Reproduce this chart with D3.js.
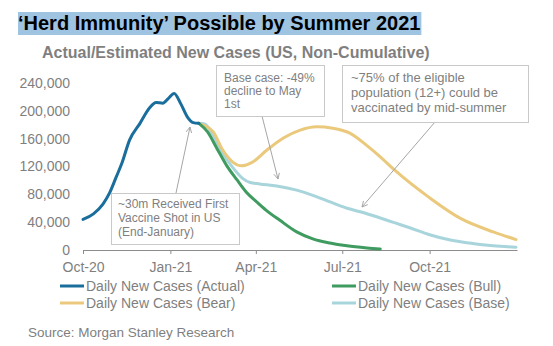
<!DOCTYPE html>
<html>
<head>
<meta charset="utf-8">
<script src="https://cdn.jsdelivr.net/npm/d3@7"></script>
<style>
  html, body { margin: 0; padding: 0; background: #fff; }
  svg { display: block; font-family: "Liberation Sans", Arial, sans-serif; }
</style>
</head>
<body>
<svg id="chart" width="553" height="346"></svg>
<script>
// Daily new US cases: reported history, then three scenario paths
const actualDates = ["2020-10-01","2020-10-12","2020-10-22","2020-10-29","2020-11-05","2020-11-11","2020-11-19","2020-11-30","2020-12-10","2020-12-17","2020-12-24","2020-12-30","2021-01-05","2021-01-12","2021-01-19","2021-01-25","2021-01-31"];
const actualValues = [44000,52000,66000,82000,105000,125000,158000,182000,204000,212000,211000,218000,225000,210000,191000,183000,182000];

const bullDates = ["2021-01-31","2021-02-09","2021-02-19","2021-03-01","2021-03-12","2021-03-22","2021-04-02","2021-04-12","2021-04-26","2021-05-14","2021-05-31","2021-06-18","2021-07-06","2021-07-27","2021-08-10"];
const bullValues = [182000,170000,146000,122000,101000,83000,69000,57000,43000,26000,16000,10000,6000,3000,1500];

const baseDates = ["2021-01-31","2021-02-06","2021-02-15","2021-02-25","2021-03-08","2021-03-18","2021-03-26","2021-04-05","2021-04-23","2021-05-14","2021-06-07","2021-07-06","2021-07-20","2021-08-10","2021-08-23","2021-09-10","2021-10-01","2021-10-24","2021-11-12","2021-12-07","2021-12-31"];
const baseValues = [182000,181000,165000,139000,118000,103000,97000,95000,92000,86000,75000,60000,55000,46000,40000,32000,22000,14000,10000,6000,4000];

const bearDates = ["2021-01-31","2021-02-15","2021-02-25","2021-03-08","2021-03-17","2021-03-28","2021-04-13","2021-04-30","2021-05-17","2021-06-04","2021-06-21","2021-07-09","2021-07-27","2021-08-10","2021-08-25","2021-09-30","2021-11-03","2021-12-07","2021-12-31"];
const bearValues = [182000,170000,144000,126000,121000,126000,144000,161000,172000,177000,175000,168000,150000,134000,115000,76000,45000,26000,15000];

const xTickDates = ["2020-10-01","2021-01-01","2021-04-01","2021-07-01","2021-10-01"];
const xTickLabels = ["Oct-20","Jan-21","Apr-21","Jul-21","Oct-21"];
const yTicks = [0,40000,80000,120000,160000,200000,240000];

const seriesNames = ["Daily New Cases (Actual)","Daily New Cases (Bull)","Daily New Cases (Bear)","Daily New Cases (Base)"];
const seriesColors = ["#1a6e9c","#3f9b5f","#ebc97c","#a8d4dc"];

const parse = d3.timeParse("%Y-%m-%d");
const zip = (ds, vs) => ds.map((d, i) => ({ date: parse(d), value: vs[i] }));

const series = [
  { name: seriesNames[0], color: seriesColors[0], width: 3, data: zip(actualDates, actualValues) },
  { name: seriesNames[3], color: seriesColors[3], width: 3, data: zip(baseDates, baseValues) },
  { name: seriesNames[2], color: seriesColors[2], width: 3, data: zip(bearDates, bearValues) },
  { name: seriesNames[1], color: seriesColors[1], width: 3, data: zip(bullDates, bullValues) }
];

const svg = d3.select("#chart");
const gray = "#7f7f7f";

// Title with highlight band sized to the text
const band = svg.append("rect").attr("x", 18).attr("y", 12).attr("height", 23).attr("fill", "#9fc4e2");
const title = svg.append("text").attr("x", 18).attr("y", 30)
  .attr("font-size", 20).attr("font-weight", "bold").attr("fill", "#000")
  .text("‘Herd Immunity’ Possible by Summer 2021");
band.attr("width", title.node().getComputedTextLength() + 1);

svg.append("text").attr("x", 42).attr("y", 58)
  .attr("font-size", 16).attr("font-weight", "bold").attr("fill", gray)
  .text("Actual/Estimated New Cases (US, Non-Cumulative)");

const x = d3.scaleTime().domain([parse("2020-10-01"), parse("2022-01-01")]).range([83, 517]);
const y = d3.scaleLinear().domain([0, 240000]).range([250, 83]);

// Y labels (no axis line)
const yAxis = d3.axisLeft(y).tickValues(yTicks).tickFormat(d3.format(",")).tickSize(0).tickPadding(0);
const gy = svg.append("g").attr("transform", "translate(70,0)").call(yAxis);
gy.select(".domain").remove();
gy.selectAll("text").attr("font-size", 14).attr("fill", gray).attr("font-family", "Liberation Sans, Arial, sans-serif");

// X axis
const xAxis = d3.axisBottom(x)
  .tickValues(xTickDates.map(parse))
  .tickFormat((d, i) => xTickLabels[i])
  .tickSize(4).tickSizeOuter(0).tickPadding(8);
const gx = svg.append("g").attr("transform", "translate(0,250)").call(xAxis);
gx.select(".domain").attr("stroke", "#8c8c8c");
gx.selectAll(".tick line").attr("stroke", "#8c8c8c");
gx.selectAll("text").attr("font-size", 14).attr("fill", gray).attr("font-family", "Liberation Sans, Arial, sans-serif");

// Lines
const line = d3.line().x(d => x(d.date)).y(d => y(d.value)).curve(d3.curveMonotoneX);
series.slice(1).concat([series[0]]).forEach(s => {
  svg.append("path").datum(s.data)
    .attr("fill", "none").attr("stroke", s.color).attr("stroke-width", s.width)
    .attr("stroke-linejoin", "round").attr("stroke-linecap", "round")
    .attr("d", line);
});

// Annotation arrows
const defs = svg.append("defs");
defs.append("marker").attr("id", "arr").attr("viewBox", "0 0 10 10")
  .attr("refX", 9).attr("refY", 5).attr("markerWidth", 7).attr("markerHeight", 7)
  .attr("orient", "auto")
  .append("path").attr("d", "M1,1 L9,5 L1,9").attr("fill", "none").attr("stroke", "#a6a6a6").attr("stroke-width", 1.3);

const arrows = [
  [176, 193, 190, 127],
  [262, 116, 278, 179],
  [435, 122, 362, 207]
];
arrows.forEach(a => {
  svg.append("line").attr("x1", a[0]).attr("y1", a[1]).attr("x2", a[2]).attr("y2", a[3])
    .attr("stroke", "#a6a6a6").attr("stroke-width", 1).attr("marker-end", "url(#arr)");
});

// Annotation boxes
const notes = [
  { x: 216, y: 65, w: 108, h: 51, tx: 224, ty: 82, lh: 13, fs: 12, lines: ["Base case: -49%", "decline to May", "1st"] },
  { x: 342, y: 65, w: 186, h: 57, tx: 351, ty: 82, lh: 15, fs: 13, lines: ["~75% of the eligible", "population (12+) could be", "vaccinated by mid-summer"] },
  { x: 111, y: 193, w: 128, h: 51, tx: 118, ty: 208, lh: 14, fs: 12, lines: ["~30m Received First", "Vaccine Shot in US", "(End-January)"] }
];
notes.forEach(n => {
  svg.append("rect").attr("x", n.x + 0.5).attr("y", n.y + 0.5).attr("width", n.w).attr("height", n.h)
    .attr("fill", "#fff").attr("stroke", "#c9c9c9").attr("stroke-width", 1);
  const t = svg.append("text").attr("font-size", n.fs).attr("fill", gray);
  n.lines.forEach((l, i) => t.append("tspan").attr("x", n.tx).attr("y", n.ty + i * n.lh).text(l));
});

// Legend
const legendItems = [
  { i: 0, lx: 60, ly: 286 },
  { i: 1, lx: 332, ly: 286 },
  { i: 2, lx: 60, ly: 303 },
  { i: 3, lx: 332, ly: 303 }
];
legendItems.forEach(it => {
  svg.append("line").attr("x1", it.lx).attr("x2", it.lx + 24).attr("y1", it.ly).attr("y2", it.ly)
    .attr("stroke", seriesColors[it.i]).attr("stroke-width", 3);
  svg.append("text").attr("x", it.lx + 26).attr("y", it.ly + 5)
    .attr("font-size", 14).attr("fill", gray).text(seriesNames[it.i]);
});

svg.append("text").attr("x", 28).attr("y", 337).attr("font-size", 13.5).attr("fill", gray)
  .text("Source: Morgan Stanley Research");
</script>
</body>
</html>
